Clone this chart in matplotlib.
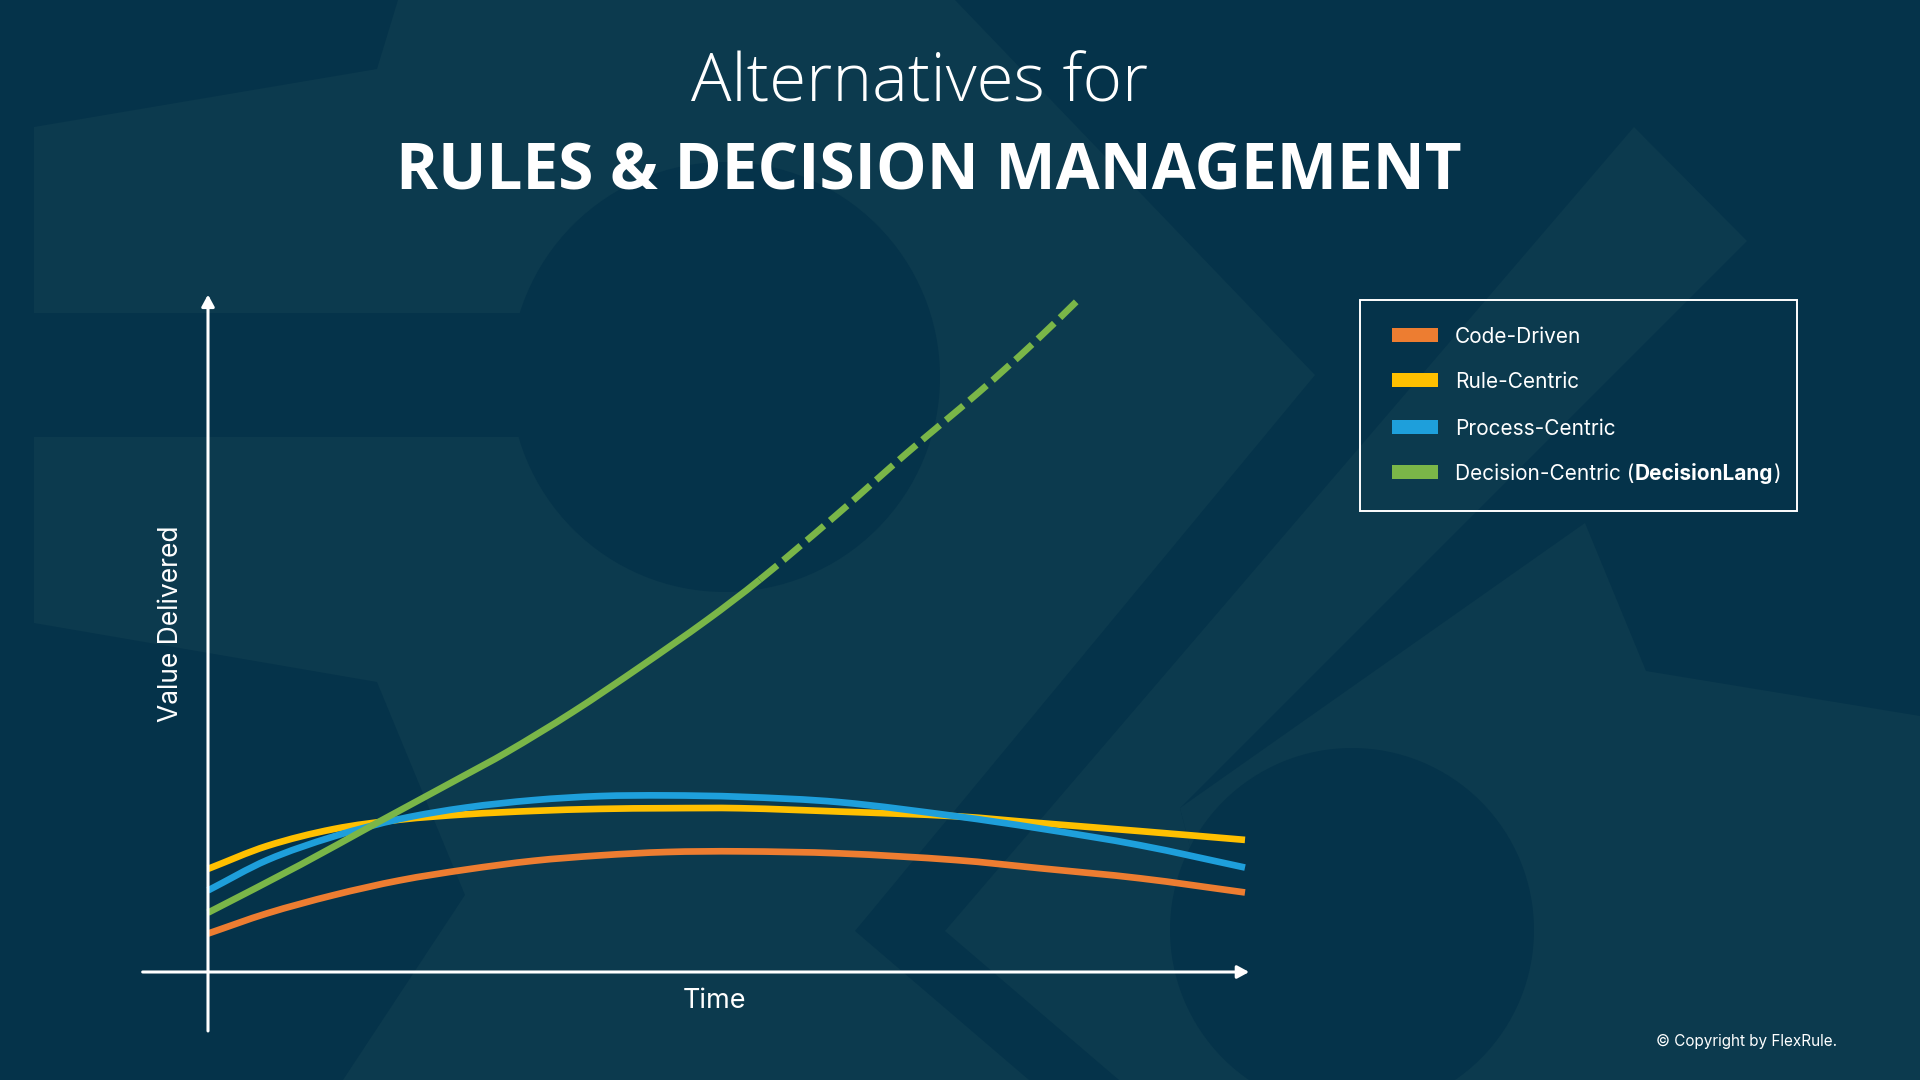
import matplotlib
matplotlib.use("Agg")
import matplotlib.pyplot as plt
from matplotlib.patches import Polygon, Circle, Rectangle, PathPatch
from matplotlib.path import Path

# ---------------- data ----------------
series_names = ["Code-Driven", "Rule-Centric", "Process-Centric", "Decision-Centric"]
series_colors = ["#ED7D31", "#FFC000", "#1E9FDB", "#7AB648"]

time_t = [0, 0.57, 1.21, 1.85, 2.49, 3.14, 3.78, 4.42, 5.13, 6.09, 7.22, 8.02, 8.99, 10]
code_v = [5.7, 8.7, 11.4, 13.6, 15.2, 16.5, 17.3, 17.8, 17.9, 17.6, 16.6, 15.4, 13.9, 11.8]
rule_v = [15.3, 18.7, 21.2, 22.6, 23.4, 23.9, 24.2, 24.3, 24.3, 23.8, 23.1, 22.1, 20.9, 19.6]
proc_v = [12.1, 16.6, 20.1, 22.7, 24.4, 25.5, 26.1, 26.2, 26.0, 25.2, 23.1, 21.3, 18.8, 15.5]

dec_t = [0, 0.89, 1.59, 2.43, 2.88, 3.52, 4.17, 4.81, 5.32]
dec_v = [8.8, 15.9, 21.8, 28.8, 32.6, 38.6, 45.3, 52.2, 58.2]
# projected (dashed) continuation of the Decision-Centric series
dec_proj_t = [5.32, 6.03, 6.74, 7.44, 7.96, 8.41]
dec_proj_v = [58.2, 67.4, 77.0, 86.1, 93.3, 100.0]

x_label = "Time"
y_label = "Value Delivered"
title_line1 = "Alternatives for"
title_line2 = "RULES & DECISION MANAGEMENT"
legend_suffix_bold = "DecisionLang"
copyright_text = "\u00a9 Copyright by FlexRule."

# ---------------- styling ----------------
DARK = "#05334A"
LIGHT = "#0C3A4E"
WHITE = "#FFFFFF"
TITLE_FONT = ["Open Sans", "DejaVu Sans"]
BODY_FONT = ["Inter", "DejaVu Sans"]

fig = plt.figure(figsize=(19.2, 10.8), dpi=100)
fig.patch.set_facecolor(DARK)

# background canvas in pixel coordinates
bg = fig.add_axes([0, 0, 1, 1])
bg.set_xlim(0, 1920)
bg.set_ylim(1080, 0)
bg.axis("off")
bg.add_patch(Rectangle((0, 0), 1920, 1080, color=DARK, zorder=0))

shape_l1 = [(398, 0), (955, 0), (1315, 375), (855, 931), (1029, 1080), (343, 1080),
            (465, 895), (377, 682), (34, 623), (34, 437), (600, 437), (600, 313),
            (34, 313), (34, 127), (377, 69)]
shape_l2 = [(1634, 127), (1747, 241), (1180, 808), (1250, 1080), (1119, 1080), (945, 931)]
shape_l3 = [(1585, 523), (1646, 671), (1920, 716), (1920, 1080), (1250, 1080), (1180, 808)]
for pts in (shape_l1, shape_l2, shape_l3):
    bg.add_patch(Polygon(pts, closed=True, facecolor=LIGHT, edgecolor="none", zorder=1))
bg.add_patch(Circle((725, 377), 215, facecolor=DARK, edgecolor="none", zorder=2))
bg.add_patch(Circle((1352, 930), 182, facecolor=DARK, edgecolor="none", zorder=2))

# titles
bg.text(920, 101, title_line1, fontsize=48.5, fontweight="light", family=TITLE_FONT,
        color=WHITE, ha="center", va="baseline", zorder=5)
bg.text(929, 189, title_line2, fontsize=46, fontweight="bold", family=TITLE_FONT,
        color=WHITE, ha="center", va="baseline", zorder=5)

# ---------------- chart ----------------
ax = fig.add_axes([208 / 1920, 108 / 1080, (1245 - 208) / 1920, (972 - 298) / 1080])
ax.set_xlim(0, 10)
ax.set_ylim(0, 100)
ax.patch.set_alpha(0)
ax.axis("off")


def smooth_path(xs, ys, before=None, after=None):
    """Smooth curve through the given points (cubic Hermite rendered as Bezier)."""
    px = list(xs)
    py = list(ys)
    ext_x = ([before[0]] if before else []) + px + ([after[0]] if after else [])
    ext_y = ([before[1]] if before else []) + py + ([after[1]] if after else [])
    off = 1 if before else 0
    m_all = []
    for k in range(len(ext_x)):
        a = max(k - 1, 0)
        b = min(k + 1, len(ext_x) - 1)
        m_all.append((ext_y[b] - ext_y[a]) / (ext_x[b] - ext_x[a]))
    m = m_all[off:off + len(px)]
    verts = [(px[0], py[0])]
    codes = [Path.MOVETO]
    for i in range(len(px) - 1):
        dx = px[i + 1] - px[i]
        verts += [(px[i] + dx / 3.0, py[i] + m[i] * dx / 3.0),
                  (px[i + 1] - dx / 3.0, py[i + 1] - m[i + 1] * dx / 3.0),
                  (px[i + 1], py[i + 1])]
        codes += [Path.CURVE4] * 3
    return Path(verts, codes)


LW = 4.8


def draw_series(xs, ys, color, z, dashed=False, before=None, after=None):
    patch = PathPatch(smooth_path(xs, ys, before, after), fill=False, edgecolor=color,
                      lw=LW, capstyle="butt", joinstyle="round",
                      linestyle=(0, (3.4, 1.2)) if dashed else "solid",
                      transform=ax.transData, clip_on=False, zorder=z)
    ax.add_patch(patch)


draw_series(time_t, code_v, series_colors[0], 3)
draw_series(time_t, rule_v, series_colors[1], 4)
draw_series(time_t, proc_v, series_colors[2], 5)
draw_series(dec_t, dec_v, series_colors[3], 6, after=(dec_proj_t[1], dec_proj_v[1]))
draw_series(dec_proj_t, dec_proj_v, series_colors[3], 6, dashed=True,
            before=(dec_t[-2], dec_v[-2]))

# axes with arrows
arrow_kw = dict(arrowstyle="-|>,head_length=0.7,head_width=0.38", color=WHITE,
                lw=2.2, shrinkA=0, shrinkB=0)
ax.annotate("", xy=(0, 100.5), xytext=(0, -8.75), arrowprops=arrow_kw,
            annotation_clip=False, zorder=7)
ax.annotate("", xy=(10.04, 0), xytext=(-0.63, 0), arrowprops=arrow_kw,
            annotation_clip=False, zorder=7)

bg.text(171, 624, y_label, rotation=90, fontsize=19, family=BODY_FONT, color=WHITE,
        ha="center", va="center", zorder=5)
bg.text(714, 1001, x_label, fontsize=19.5, family=BODY_FONT, color=WHITE,
        ha="center", va="center", zorder=5)

# ---------------- legend ----------------
bg.add_patch(Rectangle((1360, 300), 437, 211, facecolor="none", edgecolor=WHITE,
                       lw=1.4, zorder=5))
row_y = [335, 380, 427, 472]
for name, col, cy in zip(series_names, series_colors, row_y):
    bg.add_patch(Rectangle((1392, cy - 7), 46, 14, facecolor=col, edgecolor="none", zorder=6))
    t = bg.text(1455, cy + 2, name, fontsize=15, family=BODY_FONT, color=WHITE,
                ha="left", va="center", zorder=6)
    if name == "Decision-Centric":
        t.set_text(name + " (")
        t2 = bg.annotate(legend_suffix_bold, xy=(1, 0), xycoords=t, fontsize=15,
                         fontweight="bold", family=BODY_FONT, color=WHITE,
                         ha="left", va="bottom", zorder=6)
        bg.annotate(")", xy=(1, 0), xycoords=t2, fontsize=15, family=BODY_FONT,
                    color=WHITE, ha="left", va="bottom", zorder=6)

bg.text(1837, 1041, copyright_text, fontsize=11, family=BODY_FONT, color=WHITE,
        ha="right", va="center", zorder=5)

fig.savefig("out.png", dpi=100, facecolor=DARK)
